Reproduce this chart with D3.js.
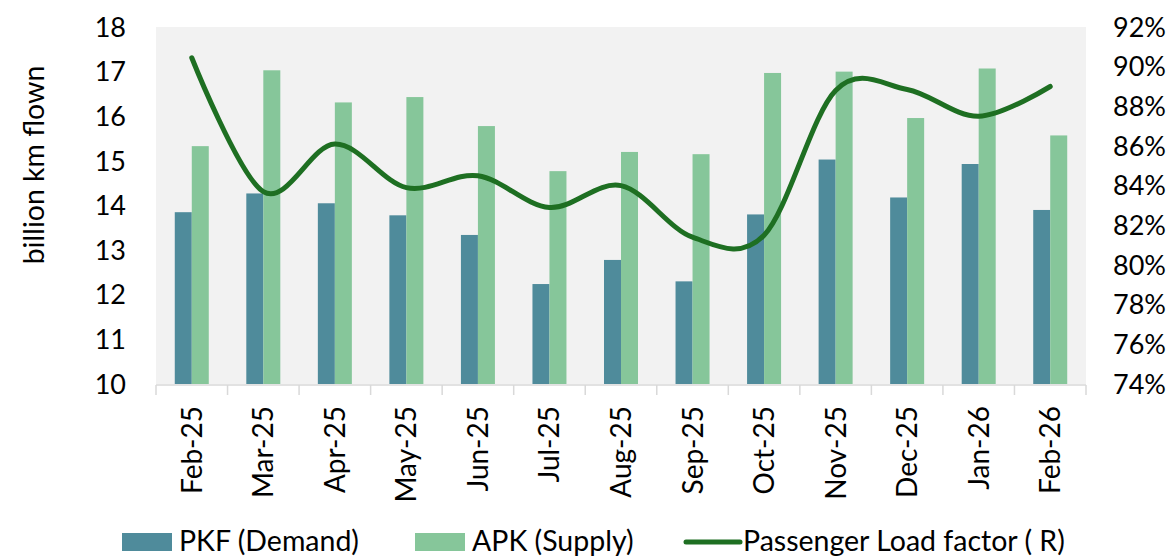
<!DOCTYPE html>
<html>
<head>
<meta charset="utf-8">
<script src="https://cdn.jsdelivr.net/npm/d3@7"></script>
<style>
  body { margin: 0; background: #fff; }
  svg text { font-family: Lato, "Open Sans", sans-serif; fill: #000; }
</style>
</head>
<body>
<div id="chart"></div>
<script>
// months on the x axis
var months = ["Feb-25", "Mar-25", "Apr-25", "May-25", "Jun-25", "Jul-25", "Aug-25",
              "Sep-25", "Oct-25", "Nov-25", "Dec-25", "Jan-26", "Feb-26"];
// billion km flown
var pkf = [13.85, 14.27, 14.05, 13.78, 13.34, 12.24, 12.78, 12.30, 13.80, 15.03, 14.18, 14.93, 13.90];
var apk = [15.33, 17.03, 16.31, 16.43, 15.78, 14.77, 15.20, 15.15, 16.97, 17.00, 15.96, 17.07, 15.57];
// load factor, %
var plf = [90.45, 83.7, 86.1, 83.9, 84.5, 82.9, 84.0, 81.4, 81.5, 88.8, 88.85, 87.5, 89.0];

var leftTicks = [10, 11, 12, 13, 14, 15, 16, 17, 18];
var rightTicks = [74, 76, 78, 80, 82, 84, 86, 88, 90, 92];

var W = 1175, H = 560;
var m = { left: 156, right: 89, top: 27, bottom: 176 };
var iw = W - m.left - m.right, ih = H - m.top - m.bottom;

var svg = d3.select("#chart").append("svg")
    .attr("width", W).attr("height", H);

var g = svg.append("g").attr("transform", "translate(" + m.left + "," + m.top + ")");

// plot background
g.append("rect").attr("width", iw).attr("height", ih).attr("fill", "#f2f2f2");

var x = d3.scaleBand().domain(months).range([0, iw]);
var yL = d3.scaleLinear().domain([10, 18]).range([ih, 0]);
var yR = d3.scaleLinear().domain([74, 92]).range([ih, 0]);

var barW = 17;

// bars
g.selectAll("rect.pkf").data(pkf).enter().append("rect")
    .attr("class", "pkf")
    .attr("x", function(d, i) { return x(months[i]) + x.bandwidth() / 2 - barW; })
    .attr("y", function(d) { return yL(d); })
    .attr("width", barW)
    .attr("height", function(d) { return ih - yL(d); })
    .attr("fill", "#4f8b9b");

g.selectAll("rect.apk").data(apk).enter().append("rect")
    .attr("class", "apk")
    .attr("x", function(d, i) { return x(months[i]) + x.bandwidth() / 2; })
    .attr("y", function(d) { return yL(d); })
    .attr("width", barW)
    .attr("height", function(d) { return ih - yL(d); })
    .attr("fill", "#86c69a");

// smoothed load factor line
var line = d3.line()
    .x(function(d, i) { return x(months[i]) + x.bandwidth() / 2; })
    .y(function(d) { return yR(d); })
    .curve(d3.curveCardinal.tension(0));

g.append("path").datum(plf)
    .attr("d", line)
    .attr("fill", "none")
    .attr("stroke", "#1e6f22")
    .attr("stroke-width", 5)
    .attr("stroke-linecap", "round");

// x axis
var xAxis = g.append("g").attr("transform", "translate(0," + (ih + 1) + ")");
xAxis.append("line").attr("x1", 0).attr("x2", iw)
    .attr("stroke", "#d9d9d9").attr("stroke-width", 1.5);
xAxis.selectAll("line.tk").data(d3.range(months.length + 1)).enter().append("line")
    .attr("class", "tk")
    .attr("x1", function(i) { return i * x.step(); })
    .attr("x2", function(i) { return i * x.step(); })
    .attr("y1", 0).attr("y2", 10)
    .attr("stroke", "#d9d9d9").attr("stroke-width", 1.5);
xAxis.selectAll("text").data(months).enter().append("text")
    .attr("transform", function(d) {
        return "translate(" + (x(d) + x.bandwidth() / 2 + 10) + ",21) rotate(-90)";
    })
    .attr("text-anchor", "end")
    .style("font-size", "28px")
    .text(function(d) { return d; });

// left axis labels
g.selectAll("text.yl").data(leftTicks).enter().append("text")
    .attr("class", "yl")
    .attr("x", -30).attr("y", function(d) { return yL(d); })
    .attr("dy", "0.36em")
    .attr("text-anchor", "end")
    .style("font-size", "27px")
    .text(function(d) { return d; });

// right axis labels
g.selectAll("text.yr").data(rightTicks).enter().append("text")
    .attr("class", "yr")
    .attr("x", iw + 27).attr("y", function(d) { return yR(d); })
    .attr("dy", "0.36em")
    .style("font-size", "27px")
    .text(function(d) { return d + "%"; });

// y title
svg.append("text")
    .attr("transform", "translate(44,165) rotate(-90)")
    .attr("text-anchor", "middle")
    .style("font-size", "28.5px")
    .text("billion km flown");

// legend
var leg = svg.append("g").attr("transform", "translate(0,542)");
var items = [
    { label: "PKF (Demand)", type: "bar", color: "#4f8b9b", x: 122 },
    { label: "APK (Supply)", type: "bar", color: "#86c69a", x: 415 },
    { label: "Passenger Load factor ( R)", type: "line", color: "#1e6f22", x: 686 }
];
items.forEach(function(it) {
    if (it.type === "bar") {
        leg.append("rect").attr("x", it.x).attr("y", -9).attr("width", 50).attr("height", 18)
            .attr("fill", it.color);
    } else {
        leg.append("line").attr("x1", it.x).attr("x2", it.x + 54)
            .attr("stroke", it.color).attr("stroke-width", 5).attr("stroke-linecap", "round");
    }
    leg.append("text").attr("x", it.x + 57).attr("y", 0)
        .attr("dy", "0.33em")
        .style("font-size", "28.5px")
        .text(it.label);
});
</script>
</body>
</html>
